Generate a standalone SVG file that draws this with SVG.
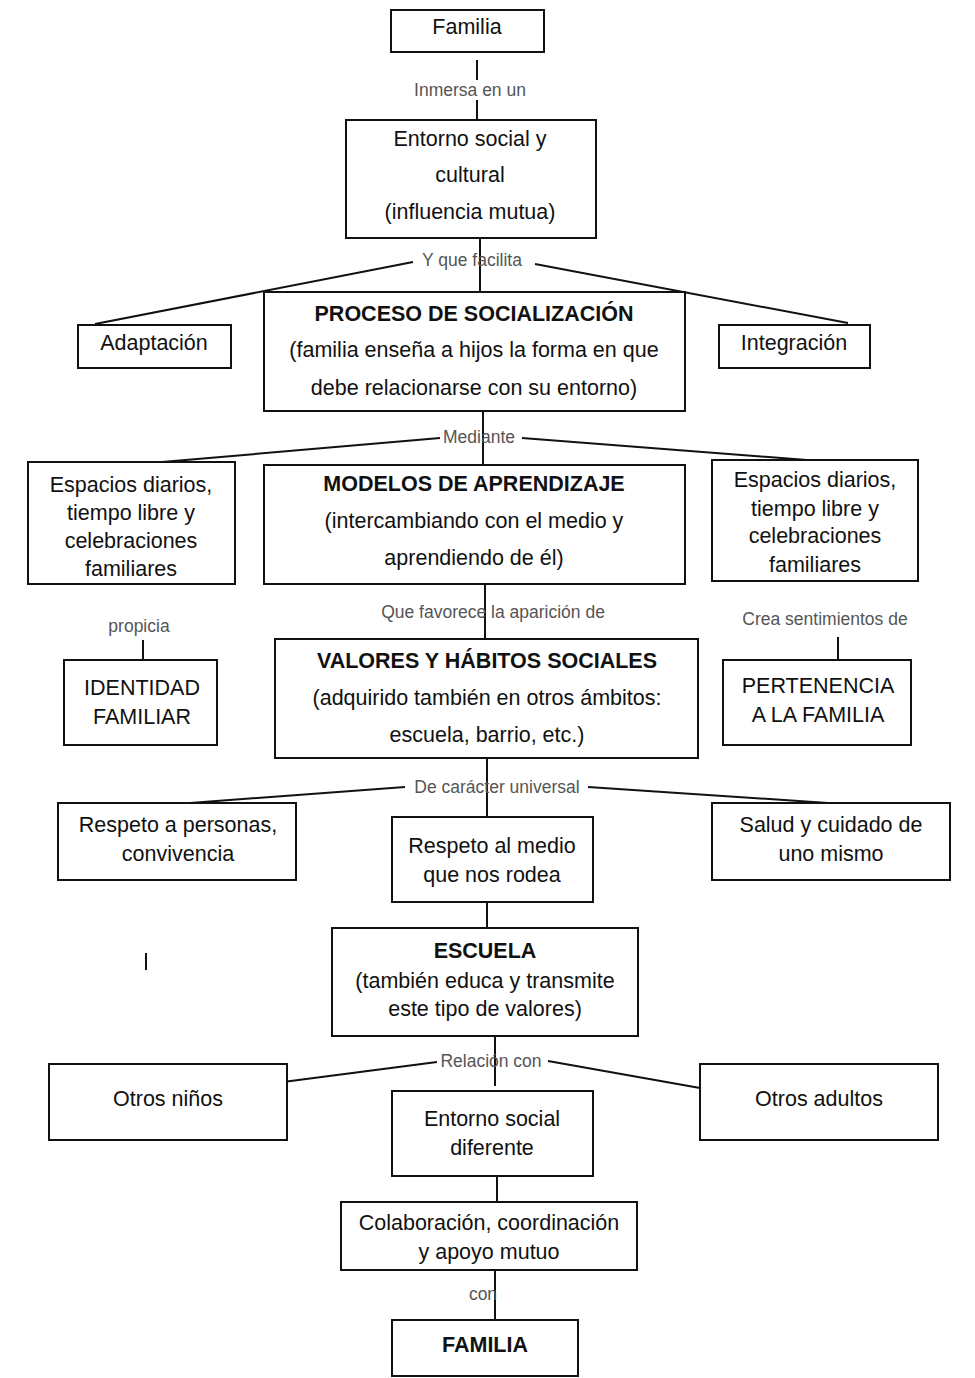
<svg xmlns="http://www.w3.org/2000/svg" width="975" height="1378" viewBox="0 0 975 1378">
<style>
rect{fill:#fff;stroke:#111;stroke-width:2}
line{stroke:#111;stroke-width:2}
text{font-family:"Liberation Sans",Arial,sans-serif;font-size:21.5px;fill:#111;text-anchor:middle}
.b{font-weight:bold}
.l{font-size:17.5px;fill:#555}
</style>
<rect x="0" y="0" width="975" height="1378" style="fill:#fff;stroke:none"/>
<g id="connectors">
<line x1="477" y1="60" x2="477" y2="80"/>
<line x1="477" y1="100" x2="477" y2="120"/>
<line x1="480" y1="238" x2="480" y2="292"/>
<line x1="413" y1="262" x2="95" y2="324"/>
<line x1="535" y1="264" x2="848" y2="323"/>
<line x1="483" y1="411" x2="483" y2="465"/>
<line x1="440" y1="438" x2="162" y2="462"/>
<line x1="522" y1="438" x2="820" y2="461"/>
<line x1="485" y1="584" x2="485" y2="639"/>
<line x1="143" y1="640" x2="143" y2="660"/>
<line x1="838" y1="637" x2="838" y2="660"/>
<line x1="487" y1="758" x2="487" y2="817"/>
<line x1="405" y1="787" x2="190" y2="803"/>
<line x1="588" y1="787" x2="828" y2="803"/>
<line x1="487" y1="902" x2="487" y2="928"/>
<line x1="146" y1="953" x2="146" y2="970"/>
<line x1="495" y1="1034" x2="495" y2="1086"/>
<line x1="437" y1="1062" x2="283" y2="1082"/>
<line x1="548" y1="1061" x2="700" y2="1088"/>
<line x1="497" y1="1176" x2="497" y2="1202"/>
<line x1="495" y1="1268" x2="495" y2="1320"/>
</g>
<g id="labels">
<text class="l" x="470" y="96">Inmersa en un</text>
<text class="l" x="472" y="266">Y que facilita</text>
<text class="l" x="479" y="443">Mediante</text>
<text class="l" x="493" y="618">Que favorece la aparición de</text>
<text class="l" x="139" y="632">propicia</text>
<text class="l" x="825" y="625">Crea sentimientos de</text>
<text class="l" x="497" y="793">De carácter universal</text>
<text class="l" x="491" y="1067">Relación con</text>
<text class="l" x="483" y="1300">con</text>
</g>
<g id="familia"><rect x="391" y="10" width="153" height="42"/><text x="467" y="34">Familia</text></g>
<g id="entorno"><rect x="346" y="120" width="250" height="118"/><text x="470" y="146">Entorno social y</text><text x="470" y="182">cultural</text><text x="470" y="219">(influencia mutua)</text></g>
<g id="adaptacion"><rect x="78" y="325" width="153" height="43"/><text x="154" y="350">Adaptación</text></g>
<g id="proceso"><rect x="264" y="292" width="421" height="119"/><text class="b" x="474" y="321">PROCESO DE SOCIALIZACIÓN</text><text x="474" y="357">(familia enseña a hijos la forma en que</text><text x="474" y="395">debe relacionarse con su entorno)</text></g>
<g id="integracion"><rect x="719" y="325" width="151" height="43"/><text x="794" y="350">Integración</text></g>
<g id="espacios1"><rect x="28" y="462" width="207" height="122"/><text x="131" y="492">Espacios diarios,</text><text x="131" y="520">tiempo libre y</text><text x="131" y="548">celebraciones</text><text x="131" y="576">familiares</text></g>
<g id="modelos"><rect x="264" y="465" width="421" height="119"/><text class="b" x="474" y="491">MODELOS DE APRENDIZAJE</text><text x="474" y="528">(intercambiando con el medio y</text><text x="474" y="565">aprendiendo de él)</text></g>
<g id="espacios2"><rect x="712" y="460" width="206" height="121"/><text x="815" y="487">Espacios diarios,</text><text x="815" y="516">tiempo libre y</text><text x="815" y="543">celebraciones</text><text x="815" y="572">familiares</text></g>
<g id="identidad"><rect x="64" y="660" width="153" height="85"/><text x="142" y="695">IDENTIDAD</text><text x="142" y="724">FAMILIAR</text></g>
<g id="valores"><rect x="275" y="639" width="423" height="119"/><text class="b" x="487" y="668">VALORES Y HÁBITOS SOCIALES</text><text x="487" y="705">(adquirido también en otros ámbitos:</text><text x="487" y="742">escuela, barrio, etc.)</text></g>
<g id="pertenencia"><rect x="723" y="660" width="188" height="85"/><text x="818" y="693">PERTENENCIA</text><text x="818" y="722">A LA FAMILIA</text></g>
<g id="respeto-personas"><rect x="58" y="803" width="238" height="77"/><text x="178" y="832">Respeto a personas,</text><text x="178" y="861">convivencia</text></g>
<g id="respeto-medio"><rect x="392" y="817" width="201" height="85"/><text x="492" y="853">Respeto al medio</text><text x="492" y="882">que nos rodea</text></g>
<g id="salud"><rect x="712" y="803" width="238" height="77"/><text x="831" y="832">Salud y cuidado de</text><text x="831" y="861">uno mismo</text></g>
<g id="escuela"><rect x="332" y="928" width="306" height="108"/><text class="b" x="485" y="958">ESCUELA</text><text x="485" y="988">(también educa y transmite</text><text x="485" y="1016">este tipo de valores)</text></g>
<g id="otros-ninos"><rect x="49" y="1064" width="238" height="76"/><text x="168" y="1106">Otros niños</text></g>
<g id="entorno-diferente"><rect x="392" y="1091" width="201" height="85"/><text x="492" y="1126">Entorno social</text><text x="492" y="1155">diferente</text></g>
<g id="otros-adultos"><rect x="700" y="1064" width="238" height="76"/><text x="819" y="1106">Otros adultos</text></g>
<g id="colaboracion"><rect x="341" y="1202" width="296" height="68"/><text x="489" y="1230">Colaboración, coordinación</text><text x="489" y="1259">y apoyo mutuo</text></g>
<g id="familia2"><rect x="392" y="1320" width="186" height="56"/><text class="b" x="485" y="1352">FAMILIA</text></g>
</svg>
